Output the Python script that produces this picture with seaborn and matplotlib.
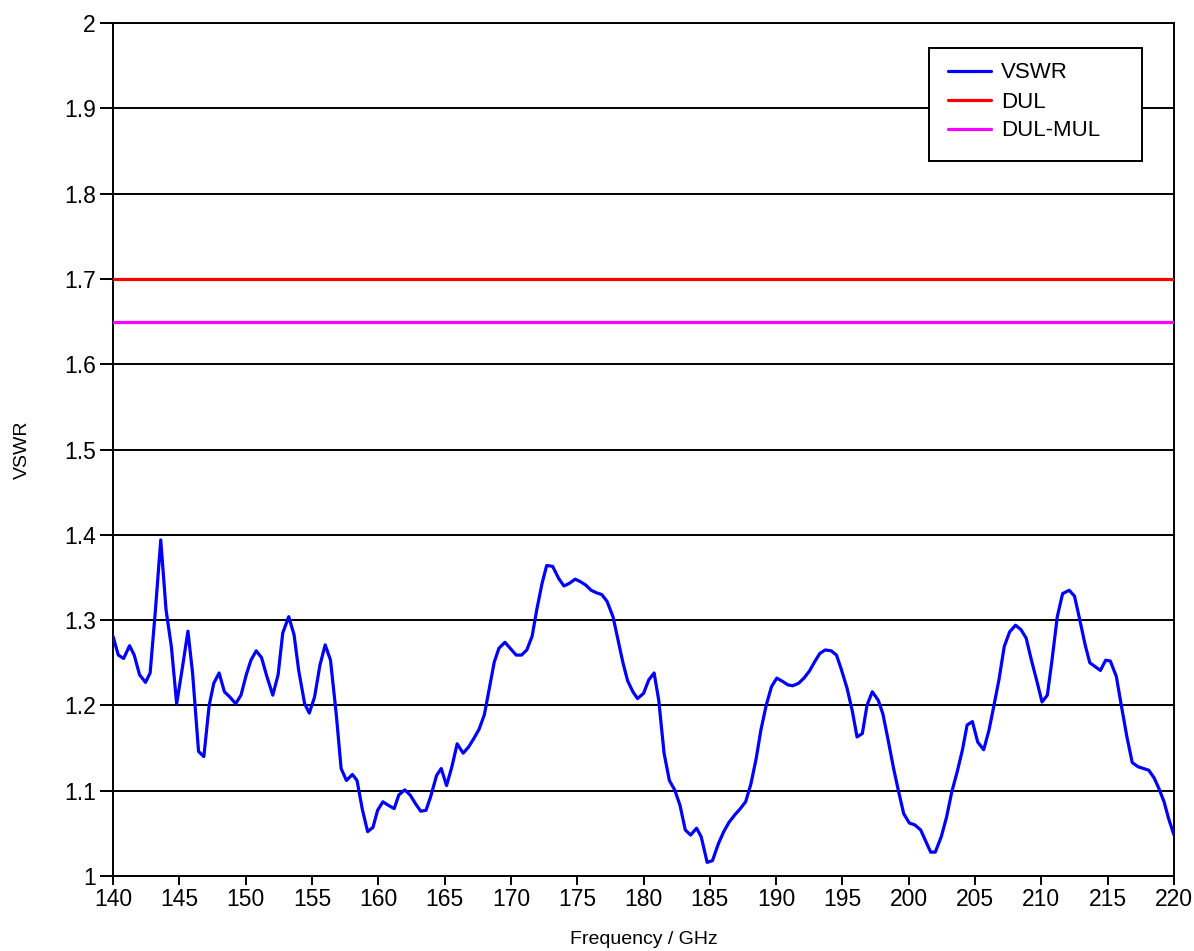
import numpy as np
import pandas as pd
import matplotlib
matplotlib.use("Agg")
import matplotlib.pyplot as plt
from matplotlib.patches import Rectangle
import seaborn as sns

# Measured VSWR across the band
freq_ghz = [
    140.0, 140.4, 140.8, 141.25, 141.6, 142.0, 142.45, 142.8, 143.2, 143.6,
    144.0, 144.4, 144.8, 145.2, 145.65, 146.0, 146.45, 146.85, 147.25, 147.6,
    148.0, 148.4, 148.8, 149.25, 149.65, 150.05, 150.4, 150.8, 151.2, 151.6,
    152.05, 152.45, 152.8, 153.25, 153.65, 154.0, 154.45, 154.8, 155.2, 155.6,
    156.0, 156.4, 156.85, 157.2, 157.6, 158.05, 158.4, 158.8, 159.2, 159.6,
    159.95, 160.35, 160.75, 161.2, 161.55, 162.0, 162.4, 162.8, 163.2, 163.6,
    163.95, 164.4, 164.75, 165.15, 165.55, 165.95, 166.4, 166.8, 167.2, 167.6,
    168.0, 168.35, 168.75, 169.1, 169.55, 169.95, 170.4, 170.8, 171.2, 171.6,
    171.95, 172.35, 172.7, 173.15, 173.6, 174.0, 174.4, 174.85, 175.25, 175.65,
    176.05, 176.45, 176.85, 177.25, 177.7, 178.05, 178.45, 178.8, 179.2, 179.55,
    180.0, 180.4, 180.8, 181.15, 181.55, 181.95, 182.35, 182.75, 183.15, 183.55,
    184.0, 184.35, 184.8, 185.2, 185.65, 186.05, 186.45, 186.9, 187.25, 187.7,
    188.1, 188.5, 188.85, 189.25, 189.65, 190.05, 190.5, 190.9, 191.25, 191.7,
    192.1, 192.5, 192.9, 193.3, 193.7, 194.15, 194.55, 194.9, 195.35, 195.75,
    196.1, 196.5, 196.85, 197.25, 197.7, 198.05, 198.4, 198.87, 199.25, 199.62,
    200.05, 200.45, 200.9, 201.25, 201.65, 202.0, 202.45, 202.85, 203.25, 203.65,
    204.05, 204.4, 204.8, 205.2, 205.65, 206.05, 206.4, 206.8, 207.2, 207.6,
    208.05, 208.45, 208.85, 209.25, 209.7, 210.05, 210.45, 210.8, 211.2, 211.6,
    212.1, 212.5, 212.9, 213.3, 213.65, 214.1, 214.45, 214.85, 215.2, 215.65,
    216.05, 216.45, 216.85, 217.3, 217.7, 218.1, 218.5, 218.85, 219.25, 219.6,
    220.0,
]
vswr = [
    1.281, 1.259, 1.255, 1.270, 1.259, 1.236, 1.227, 1.238, 1.312, 1.394,
    1.312, 1.269, 1.202, 1.241, 1.287, 1.238, 1.146, 1.140, 1.200, 1.226,
    1.238, 1.216, 1.210, 1.202, 1.212, 1.236, 1.253, 1.264, 1.256, 1.234,
    1.212, 1.236, 1.285, 1.304, 1.283, 1.241, 1.202, 1.191, 1.210, 1.247,
    1.271, 1.253, 1.187, 1.126, 1.112, 1.119, 1.112, 1.078, 1.052, 1.057,
    1.077, 1.087, 1.083, 1.079, 1.095, 1.101, 1.095, 1.085, 1.076, 1.077,
    1.093, 1.118, 1.126, 1.106, 1.128, 1.155, 1.144, 1.151, 1.161, 1.172,
    1.189, 1.218, 1.251, 1.267, 1.274, 1.267, 1.259, 1.259, 1.265, 1.281,
    1.312, 1.343, 1.364, 1.363, 1.349, 1.340, 1.343, 1.348, 1.345, 1.341,
    1.335, 1.332, 1.330, 1.322, 1.304, 1.279, 1.250, 1.229, 1.216, 1.208,
    1.214, 1.230, 1.238, 1.206, 1.144, 1.112, 1.101, 1.083, 1.054, 1.048,
    1.056, 1.046, 1.016, 1.018, 1.038, 1.052, 1.063, 1.072, 1.078, 1.087,
    1.108, 1.138, 1.171, 1.200, 1.222, 1.232, 1.228, 1.224, 1.223, 1.226,
    1.232, 1.240, 1.251, 1.261, 1.265, 1.264, 1.259, 1.243, 1.220, 1.193,
    1.163, 1.167, 1.200, 1.216, 1.206, 1.190, 1.163, 1.125, 1.098, 1.073,
    1.062, 1.060, 1.054, 1.042, 1.028, 1.028, 1.046, 1.069, 1.099, 1.122,
    1.148, 1.177, 1.181, 1.157, 1.148, 1.171, 1.198, 1.230, 1.269, 1.286,
    1.294, 1.289, 1.279, 1.253, 1.226, 1.204, 1.212, 1.253, 1.304, 1.331,
    1.335, 1.328, 1.300, 1.271, 1.250, 1.245, 1.241, 1.253, 1.252, 1.234,
    1.198, 1.163, 1.133, 1.128, 1.126, 1.124, 1.115, 1.103, 1.087, 1.067,
    1.048,
]

# Limit lines
dul_limit = 1.7
dul_mul_limit = 1.65

x_ticks = list(range(140, 221, 5))
y_ticks = [1.0, 1.1, 1.2, 1.3, 1.4, 1.5, 1.6, 1.7, 1.8, 1.9, 2.0]
y_tick_labels = ["1", "1.1", "1.2", "1.3", "1.4", "1.5", "1.6", "1.7", "1.8", "1.9", "2"]

sns.set_style("white")
plt.rcParams["font.family"] = ["Liberation Sans", "DejaVu Sans"]
plt.rcParams["text.color"] = "black"

W, H = 1194, 951
fig = plt.figure(figsize=(W / 100, H / 100), dpi=100)
ax = fig.add_axes([113 / W, 1 - 876 / H, (1174 - 113) / W, (876 - 23) / H])

df = pd.DataFrame({"Frequency": freq_ghz, "VSWR": vswr})
sns.lineplot(data=df, x="Frequency", y="VSWR", ax=ax, color="#0000ff",
             linewidth=2.3, label="VSWR", zorder=5)
ax.axhline(dul_limit, color="#ff0000", linewidth=2.3, label="DUL", zorder=4)
ax.axhline(dul_mul_limit, color="#ff00ff", linewidth=2.3, label="DUL-MUL", zorder=4)

ax.set_xlim(140, 220)
ax.set_ylim(1, 2)
ax.set_xticks(x_ticks)
ax.set_yticks(y_ticks)
ax.set_yticklabels(y_tick_labels)

ax.yaxis.grid(True, color="black", linewidth=1.4)
ax.xaxis.grid(False)
ax.set_axisbelow(True)

for side in ax.spines.values():
    side.set_visible(True)
    side.set_color("black")
    side.set_linewidth(1.4)

ax.tick_params(axis="y", direction="out", length=9.3, width=1.4, color="black",
               labelsize=16.5, labelcolor="black", left=True, pad=3)
ax.tick_params(axis="x", direction="out", length=6.5, width=1.4, color="black",
               labelsize=16.5, labelcolor="black", bottom=True, pad=2)

ax.set_xlabel("Frequency / GHz", fontsize=14, color="black")
ax.set_ylabel("VSWR", fontsize=14, color="black")
ax.xaxis.set_label_coords(0.5, (876 - 931) / (876 - 23))
ax.yaxis.set_label_coords((31 - 113) / (1174 - 113), 0.5)

# Legend frame, drawn inside the axes just under the legend entries
frame_box = Rectangle((929 / W, 1 - 161 / H), (1142 - 929) / W, (161 - 48) / H,
                      transform=fig.transFigure, facecolor="white",
                      edgecolor="black", linewidth=1.4, zorder=8, clip_on=False)
ax.add_patch(frame_box)

leg = ax.legend(loc="center left", bbox_to_anchor=(948 / W, 1 - 102 / H),
                bbox_transform=fig.transFigure, fontsize=16, frameon=False,
                handlelength=1.95, handletextpad=0.45, borderpad=0,
                labelspacing=0.36, borderaxespad=0)
for line in leg.get_lines():
    line.set_linewidth(2.3)
for txt in leg.get_texts():
    txt.set_color("black")
leg.set_zorder(10)

fig.savefig("out.png", dpi=100, facecolor="white")
